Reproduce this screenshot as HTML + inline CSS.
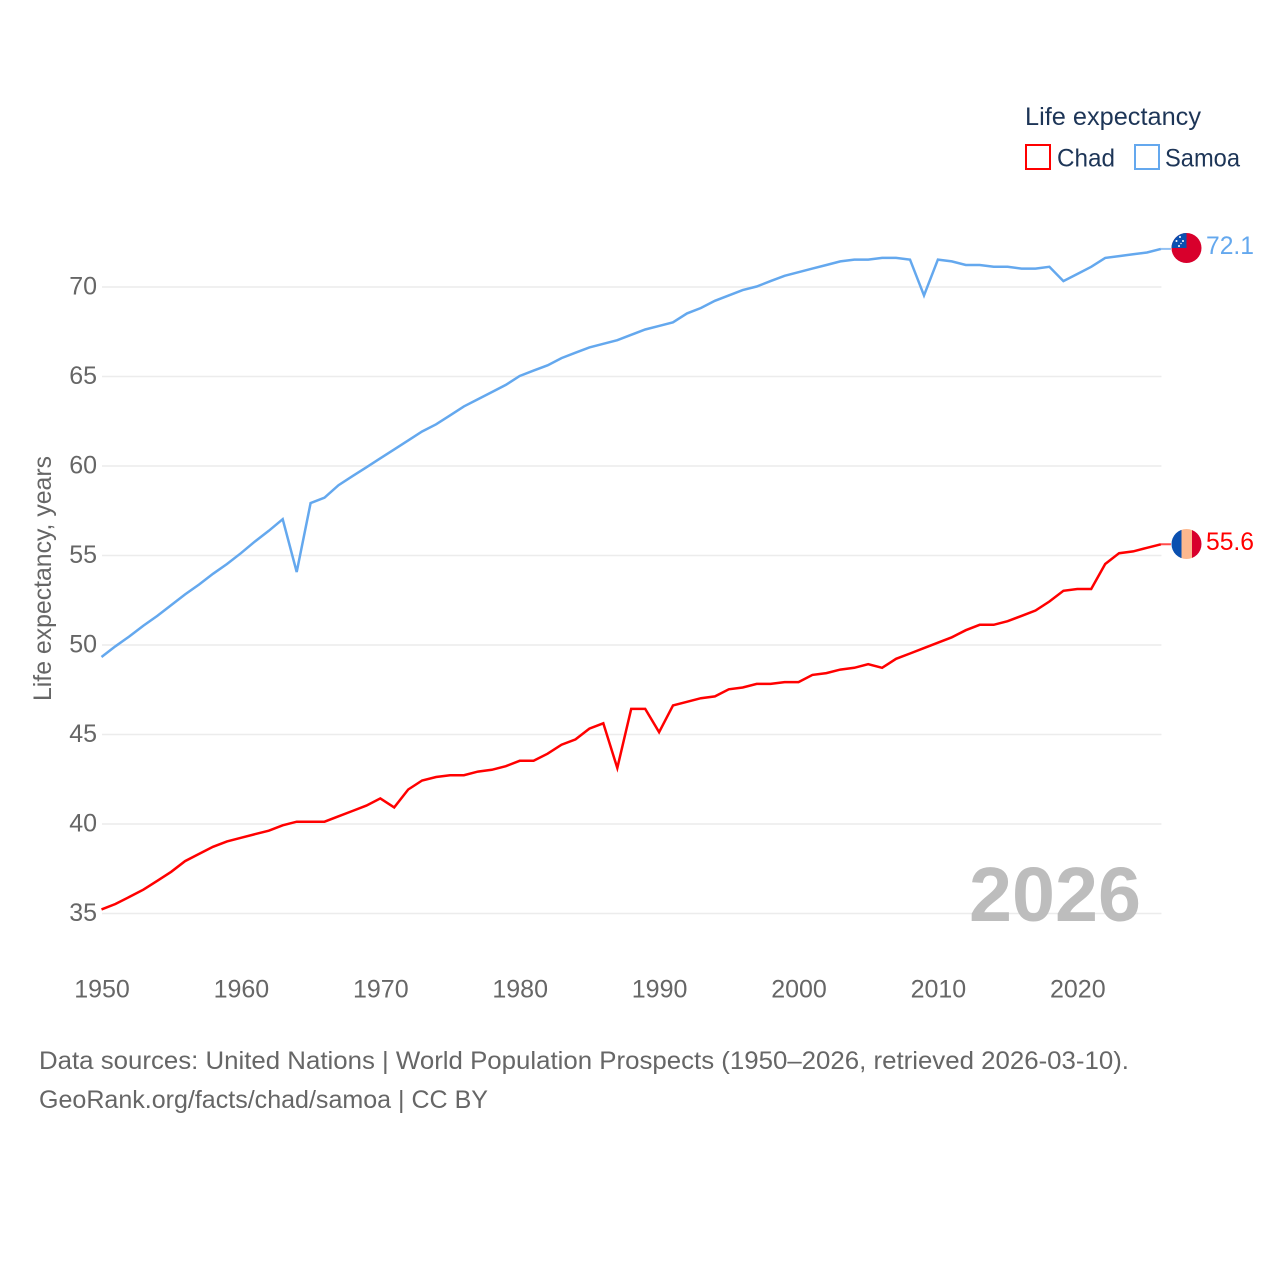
<!DOCTYPE html>
<html lang="en">
<head>
<meta charset="utf-8">
<title>Life expectancy: Chad vs Samoa</title>
<style>
html,body{margin:0;padding:0;background:#fff;width:1280px;height:1280px;overflow:hidden}
svg{display:block}
text{font-family:"Liberation Sans",sans-serif}
.tick{font-size:25px;fill:#666}
.src{font-size:25px;fill:#666}
.leg{font-size:25px;fill:#1d3557}
</style>
</head>
<body>
<svg id="chart" width="1280" height="1280" viewBox="0 0 1280 1280" xmlns="http://www.w3.org/2000/svg">
  <defs>
    <clipPath id="flag-clip-samoa"><circle cx="1186.5" cy="248" r="15"/></clipPath>
    <clipPath id="flag-clip-chad"><circle cx="1186.5" cy="544" r="15"/></clipPath>
  </defs>
  <g id="grid"></g>
  <g id="yticks"></g>
  <g id="xticks"></g>
  <text class="tick" transform="translate(51,701) rotate(-90)" textLength="245" lengthAdjust="spacingAndGlyphs">Life expectancy, years</text>
  <text x="969" y="921" font-size="77" font-weight="700" fill="#bdbdbd" textLength="172" lengthAdjust="spacingAndGlyphs">2026</text>
  <g id="lines"></g>

  <g clip-path="url(#flag-clip-samoa)">
    <rect x="1171" y="233" width="31" height="31" fill="#d8002c"/>
    <rect x="1171" y="233" width="15.5" height="15" fill="#0b50b0"/>
    <circle cx="1180" cy="237" r="1" fill="#fff"/>
    <circle cx="1176.5" cy="241" r="1" fill="#fff"/>
    <circle cx="1183" cy="241" r="1" fill="#fff"/>
    <circle cx="1181" cy="243.5" r="0.7" fill="#fff"/>
    <circle cx="1179" cy="246" r="1" fill="#fff"/>
  </g>
  <g clip-path="url(#flag-clip-chad)">
    <rect x="1171" y="529" width="10.5" height="30" fill="#0b50b0"/>
    <rect x="1181.5" y="529" width="10.5" height="30" fill="#fdb88e"/>
    <rect x="1192" y="529" width="10.5" height="30" fill="#d8002c"/>
  </g>
  <text id="label-samoa" x="1206" y="254" font-size="25" fill="#64a8ee" textLength="48" lengthAdjust="spacingAndGlyphs"></text>
  <text id="label-chad" x="1206" y="550" font-size="25" fill="#ff0000" textLength="48" lengthAdjust="spacingAndGlyphs"></text>

  <g>
    <text class="leg" x="1025" y="125" textLength="176" lengthAdjust="spacingAndGlyphs">Life expectancy</text>
    <g>
      <rect x="1026" y="145" width="24" height="24" fill="none" stroke="#ff0000" stroke-width="2"/>
      <text class="leg" x="1057" y="166.5" textLength="58" lengthAdjust="spacingAndGlyphs">Chad</text>
    </g>
    <g>
      <rect x="1135" y="145" width="24" height="24" fill="none" stroke="#64a8ee" stroke-width="2"/>
      <text class="leg" x="1165" y="166.5" textLength="75" lengthAdjust="spacingAndGlyphs">Samoa</text>
    </g>
  </g>

  <text class="src" x="39" y="1069" textLength="1090" lengthAdjust="spacingAndGlyphs">Data sources: United Nations | World Population Prospects (1950–2026, retrieved 2026-03-10).</text>
  <text class="src" x="39" y="1108" textLength="449" lengthAdjust="spacingAndGlyphs">GeoRank.org/facts/chad/samoa | CC BY</text>
</svg>
<script>
const years = [1950,1951,1952,1953,1954,1955,1956,1957,1958,1959,1960,1961,1962,1963,1964,1965,1966,1967,1968,1969,1970,1971,1972,1973,1974,1975,1976,1977,1978,1979,1980,1981,1982,1983,1984,1985,1986,1987,1988,1989,1990,1991,1992,1993,1994,1995,1996,1997,1998,1999,2000,2001,2002,2003,2004,2005,2006,2007,2008,2009,2010,2011,2012,2013,2014,2015,2016,2017,2018,2019,2020,2021,2022,2023,2024,2025,2026];
const samoaValues = [49.3,49.9,50.45,51.05,51.6,52.2,52.8,53.35,53.95,54.5,55.1,55.75,56.35,57.0,54.05,57.9,58.2,58.9,59.4,59.9,60.4,60.9,61.4,61.9,62.3,62.8,63.3,63.7,64.1,64.5,65.0,65.3,65.6,66.0,66.3,66.6,66.8,67.0,67.3,67.6,67.8,68.0,68.5,68.8,69.2,69.5,69.8,70.0,70.3,70.6,70.8,71.0,71.2,71.4,71.5,71.5,71.6,71.6,71.5,69.5,71.5,71.4,71.2,71.2,71.1,71.1,71.0,71.0,71.1,70.3,70.7,71.1,71.6,71.7,71.8,71.9,72.1];
const chadValues = [35.2,35.5,35.9,36.3,36.8,37.3,37.9,38.3,38.7,39.0,39.2,39.4,39.6,39.9,40.1,40.1,40.1,40.4,40.7,41.0,41.4,40.9,41.9,42.4,42.6,42.7,42.7,42.9,43.0,43.2,43.5,43.5,43.9,44.4,44.7,45.3,45.6,43.1,46.4,46.4,45.1,46.6,46.8,47.0,47.1,47.5,47.6,47.8,47.8,47.9,47.9,48.3,48.4,48.6,48.7,48.9,48.7,49.2,49.5,49.8,50.1,50.4,50.8,51.1,51.1,51.3,51.6,51.9,52.4,53.0,53.1,53.1,54.5,55.1,55.2,55.4,55.6];
const yTickValues = [35,40,45,50,55,60,65,70];
const xTickValues = [1950,1960,1970,1980,1990,2000,2010,2020];

const NS = 'http://www.w3.org/2000/svg';
const x = function (year) { return 102 + (year - 1950) * 13.94; };
const y = function (v) { return 287 + (70 - v) * 17.9; };
const lineX = function (year) { return x(year) - 0.5; };
const lineY = function (v) { return y(v) - 0.5; };
const make = function (tag) { return document.createElementNS(NS, tag); };

const grid = document.getElementById('grid');
const yticks = document.getElementById('yticks');
const xticks = document.getElementById('xticks');
const lines = document.getElementById('lines');

yTickValues.forEach(function (v) {
  const g = make('line');
  
  
  g.setAttribute('x1', x(1950));
  g.setAttribute('x2', x(2026));
  g.setAttribute('y1', y(v));
  g.setAttribute('y2', y(v));
  g.setAttribute('stroke', '#ececec');
  g.setAttribute('stroke-width', '1.5');
  grid.appendChild(g);

  const t = make('text');
  
  
  t.setAttribute('class', 'tick');
  t.setAttribute('x', 97);
  t.setAttribute('y', y(v) + 7.5);
  t.setAttribute('text-anchor', 'end');
  t.textContent = String(v);
  yticks.appendChild(t);
});

xTickValues.forEach(function (v) {
  const t = make('text');
  
  
  t.setAttribute('class', 'tick');
  t.setAttribute('x', x(v));
  t.setAttribute('y', 997.5);
  t.setAttribute('text-anchor', 'middle');
  t.textContent = String(v);
  xticks.appendChild(t);
});

function drawSeries(values, color, seriesName) {
  const last = values[values.length - 1];
  const conn = make('line');
  
  
  conn.setAttribute('x1', lineX(years[years.length - 1]));
  conn.setAttribute('x2', lineX(years[years.length - 1]) + 10);
  conn.setAttribute('y1', lineY(last));
  conn.setAttribute('y2', lineY(last));
  conn.setAttribute('stroke', color);
  conn.setAttribute('stroke-width', '2');
  conn.setAttribute('opacity', '0.7');
  lines.appendChild(conn);

  const p = make('polyline');
  
  
  p.setAttribute('fill', 'none');
  p.setAttribute('stroke', color);
  p.setAttribute('stroke-width', '2.5');
  p.setAttribute('stroke-linejoin', 'miter');
  p.setAttribute('points', values.map(function (v, i) {
    return lineX(years[i]).toFixed(1) + ',' + lineY(v).toFixed(1);
  }).join(' '));
  lines.appendChild(p);
}

drawSeries(samoaValues, '#64a8ee', 'samoa');
drawSeries(chadValues, '#ff0000', 'chad');

document.getElementById('label-samoa').textContent = samoaValues[samoaValues.length - 1].toFixed(1);
document.getElementById('label-chad').textContent = chadValues[chadValues.length - 1].toFixed(1);
</script>
</body>
</html>
